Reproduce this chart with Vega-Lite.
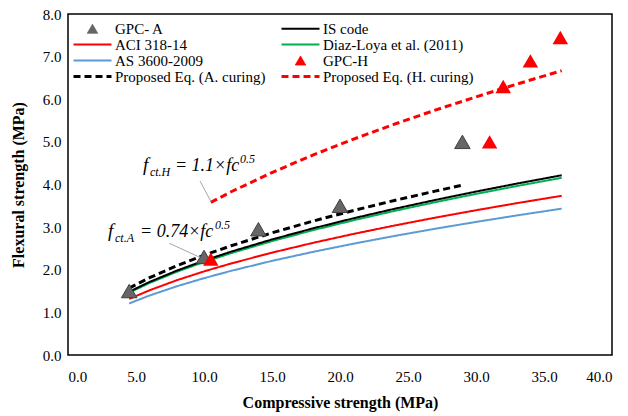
{
  "$schema": "https://vega.github.io/schema/vega-lite/v6.json",
  "width": 544,
  "height": 341,
  "autosize": "none",
  "padding": {"left": 68, "top": 14, "right": 16, "bottom": 61},
  "background": "white",
  "config": {
    "view": {"stroke": "#000000", "strokeWidth": 1.5},
    "font": "Liberation Serif",
    "axis": {
      "grid": false, "ticks": false, "domain": false,
      "labelFont": "Liberation Serif", "labelFontSize": 15, "labelColor": "#000000",
      "titleFont": "Liberation Serif", "titleFontSize": 16, "titleFontWeight": "bold", "titleColor": "#000000",
      "format": ".1f"
    },
    "legend": {"labelFont": "Liberation Serif", "labelFontSize": 15, "labelColor": "#000000"}
  },
  "datasets": {
    "curves": [
      {"series": "ACI 318-14", "fc": 4.5, "ft": 1.315}, {"series": "ACI 318-14", "fc": 6, "ft": 1.519}, {"series": "ACI 318-14", "fc": 8, "ft": 1.754}, {"series": "ACI 318-14", "fc": 10, "ft": 1.961}, {"series": "ACI 318-14", "fc": 12, "ft": 2.148}, {"series": "ACI 318-14", "fc": 15, "ft": 2.401}, {"series": "ACI 318-14", "fc": 18, "ft": 2.63}, {"series": "ACI 318-14", "fc": 21, "ft": 2.841}, {"series": "ACI 318-14", "fc": 24, "ft": 3.037}, {"series": "ACI 318-14", "fc": 27, "ft": 3.222}, {"series": "ACI 318-14", "fc": 30, "ft": 3.396}, {"series": "ACI 318-14", "fc": 33, "ft": 3.562}, {"series": "ACI 318-14", "fc": 36.3, "ft": 3.735},
      {"series": "AS 3600-2009", "fc": 4.5, "ft": 1.209}, {"series": "AS 3600-2009", "fc": 6, "ft": 1.396}, {"series": "AS 3600-2009", "fc": 8, "ft": 1.612}, {"series": "AS 3600-2009", "fc": 10, "ft": 1.802}, {"series": "AS 3600-2009", "fc": 12, "ft": 1.975}, {"series": "AS 3600-2009", "fc": 15, "ft": 2.208}, {"series": "AS 3600-2009", "fc": 18, "ft": 2.418}, {"series": "AS 3600-2009", "fc": 21, "ft": 2.612}, {"series": "AS 3600-2009", "fc": 24, "ft": 2.792}, {"series": "AS 3600-2009", "fc": 27, "ft": 2.962}, {"series": "AS 3600-2009", "fc": 30, "ft": 3.122}, {"series": "AS 3600-2009", "fc": 33, "ft": 3.274}, {"series": "AS 3600-2009", "fc": 36.3, "ft": 3.434},
      {"series": "Diaz-Loya et al. (2011)", "fc": 4.5, "ft": 1.464}, {"series": "Diaz-Loya et al. (2011)", "fc": 6, "ft": 1.69}, {"series": "Diaz-Loya et al. (2011)", "fc": 8, "ft": 1.952}, {"series": "Diaz-Loya et al. (2011)", "fc": 10, "ft": 2.182}, {"series": "Diaz-Loya et al. (2011)", "fc": 12, "ft": 2.39}, {"series": "Diaz-Loya et al. (2011)", "fc": 15, "ft": 2.672}, {"series": "Diaz-Loya et al. (2011)", "fc": 18, "ft": 2.927}, {"series": "Diaz-Loya et al. (2011)", "fc": 21, "ft": 3.162}, {"series": "Diaz-Loya et al. (2011)", "fc": 24, "ft": 3.38}, {"series": "Diaz-Loya et al. (2011)", "fc": 27, "ft": 3.585}, {"series": "Diaz-Loya et al. (2011)", "fc": 30, "ft": 3.779}, {"series": "Diaz-Loya et al. (2011)", "fc": 33, "ft": 3.964}, {"series": "Diaz-Loya et al. (2011)", "fc": 36.3, "ft": 4.157},
      {"series": "IS code", "fc": 4.5, "ft": 1.485}, {"series": "IS code", "fc": 6, "ft": 1.715}, {"series": "IS code", "fc": 8, "ft": 1.98}, {"series": "IS code", "fc": 10, "ft": 2.214}, {"series": "IS code", "fc": 12, "ft": 2.425}, {"series": "IS code", "fc": 15, "ft": 2.711}, {"series": "IS code", "fc": 18, "ft": 2.97}, {"series": "IS code", "fc": 21, "ft": 3.208}, {"series": "IS code", "fc": 24, "ft": 3.429}, {"series": "IS code", "fc": 27, "ft": 3.637}, {"series": "IS code", "fc": 30, "ft": 3.834}, {"series": "IS code", "fc": 33, "ft": 4.021}, {"series": "IS code", "fc": 36.3, "ft": 4.217},
      {"series": "Proposed Eq. (A. curing)", "fc": 4.5, "ft": 1.57}, {"series": "Proposed Eq. (A. curing)", "fc": 6, "ft": 1.813}, {"series": "Proposed Eq. (A. curing)", "fc": 8, "ft": 2.093}, {"series": "Proposed Eq. (A. curing)", "fc": 10, "ft": 2.34}, {"series": "Proposed Eq. (A. curing)", "fc": 12, "ft": 2.563}, {"series": "Proposed Eq. (A. curing)", "fc": 15, "ft": 2.866}, {"series": "Proposed Eq. (A. curing)", "fc": 18, "ft": 3.14}, {"series": "Proposed Eq. (A. curing)", "fc": 21, "ft": 3.391}, {"series": "Proposed Eq. (A. curing)", "fc": 24, "ft": 3.625}, {"series": "Proposed Eq. (A. curing)", "fc": 27, "ft": 3.845}, {"series": "Proposed Eq. (A. curing)", "fc": 29, "ft": 3.985},
      {"series": "Proposed Eq. (H. curing)", "fc": 10.5, "ft": 3.58}, {"series": "Proposed Eq. (H. curing)", "fc": 12, "ft": 3.83}, {"series": "Proposed Eq. (H. curing)", "fc": 15, "ft": 4.28}, {"series": "Proposed Eq. (H. curing)", "fc": 18, "ft": 4.69}, {"series": "Proposed Eq. (H. curing)", "fc": 21, "ft": 5.065}, {"series": "Proposed Eq. (H. curing)", "fc": 24, "ft": 5.415}, {"series": "Proposed Eq. (H. curing)", "fc": 27, "ft": 5.745}, {"series": "Proposed Eq. (H. curing)", "fc": 30, "ft": 6.055}, {"series": "Proposed Eq. (H. curing)", "fc": 33, "ft": 6.355}, {"series": "Proposed Eq. (H. curing)", "fc": 36.3, "ft": 6.67}
    ],
    "points": [
      {"series": "GPC- A", "fc": 4.5, "ft": 1.5},
      {"series": "GPC- A", "fc": 10, "ft": 2.3},
      {"series": "GPC- A", "fc": 14, "ft": 2.95},
      {"series": "GPC- A", "fc": 20, "ft": 3.5},
      {"series": "GPC- A", "fc": 29, "ft": 5.0},
      {"series": "GPC-H", "fc": 10.5, "ft": 2.25},
      {"series": "GPC-H", "fc": 31, "ft": 5.0},
      {"series": "GPC-H", "fc": 32, "ft": 6.3},
      {"series": "GPC-H", "fc": 34, "ft": 6.9},
      {"series": "GPC-H", "fc": 36.2, "ft": 7.45}
    ],
    "notes": [
      {"note": "H", "fc": 5.51, "ft": 4.32, "sym": "f", "sub": "ct.H", "eq": "= 1.1×fc", "sup": "0.5"},
      {"note": "A", "fc": 2.94, "ft": 2.77, "sym": "f", "sub": "ct.A", "eq": "= 0.74×fc", "sup": "0.5"}
    ],
    "leaders": [
      {"note": "H", "fc": 9.71, "ft": 4.08, "fc2": 10.51, "ft2": 3.6},
      {"note": "A", "fc": 7.45, "ft": 2.62, "fc2": 9.71, "ft2": 2.29}
    ]
  },
  "encoding": {
    "x": {"field": "fc", "type": "quantitative", "scale": {"domain": [0, 40], "nice": false},
      "axis": {"values": [0, 5, 10, 15, 20, 25, 30, 35, 40], "labelPadding": 14, "titlePadding": 10, "title": "Compressive strength (MPa)"}},
    "y": {"field": "ft", "type": "quantitative", "scale": {"domain": [0, 8], "nice": false},
      "axis": {"values": [0, 1, 2, 3, 4, 5, 6, 7, 8], "labelPadding": 7, "titlePadding": 16, "title": "Flexural strength (MPa)"}}
  },
  "layer": [
    {
      "data": {"name": "curves"},
      "transform": [{"filter": "datum.series !== 'Proposed Eq. (A. curing)' && datum.series !== 'Proposed Eq. (H. curing)'"}],
      "mark": {"type": "line", "strokeWidth": 2},
      "encoding": {
        "color": {"field": "series", "type": "nominal",
          "scale": {
            "domain": ["GPC- A", "ACI 318-14", "AS 3600-2009", "Proposed Eq. (A. curing)", "IS code", "Diaz-Loya et al. (2011)", "GPC-H", "Proposed Eq. (H. curing)"],
            "range": ["#666666", "#ff0000", "#5b9bd5", "#000000", "#000000", "#00b050", "#ff0000", "#ff0000"]
          },
          "legend": {
            "title": null, "orient": "none", "legendX": 5, "legendY": 7, "padding": 0,
            "columns": 2, "columnPadding": 15, "rowPadding": -1.3, "clipHeight": 15,
            "symbolSize": 200, "symbolStrokeWidth": 2.5, "symbolOffset": 12, "labelOffset": 15,
            "labelFont": "Liberation Serif", "labelFontSize": 15, "labelColor": "#000000", "labelLimit": 300,
            "symbolType": "stroke",
            "encode": {
              "symbols": {
                "update": {
                  "shape": {"signal": "scale('shape', datum.value)"},
                  "strokeDash": {"signal": "scale('strokeDash', datum.value)"},
                  "fill": {"signal": "scale('color', datum.value)"},
                  "stroke": {"signal": "datum.value === 'GPC- A' ? '#404040' : scale('color', datum.value)"},
                  "opacity": {"value": 1},
                  "size": {"signal": "(datum.value === 'GPC- A' || datum.value === 'GPC-H') ? 110 : 1444"},
                  "strokeWidth": {"signal": "(datum.value === 'GPC- A' || datum.value === 'GPC-H') ? 0.8 : (indexof(datum.value, 'Proposed') === 0 ? 3 : 2.2)"}
                }
              }
            }
          }
        },
        "strokeDash": {"field": "series", "type": "nominal", "legend": null,
          "scale": {
            "domain": ["GPC- A", "ACI 318-14", "AS 3600-2009", "Proposed Eq. (A. curing)", "IS code", "Diaz-Loya et al. (2011)", "GPC-H", "Proposed Eq. (H. curing)"],
            "range": [[1, 0], [1, 0], [1, 0], [7, 4], [1, 0], [1, 0], [1, 0], [7, 4]]
          }
        }
      }
    },
    {
      "data": {"name": "curves"},
      "transform": [{"filter": "datum.series === 'Proposed Eq. (A. curing)' || datum.series === 'Proposed Eq. (H. curing)'"}],
      "mark": {"type": "line", "strokeWidth": 3},
      "encoding": {
        "color": {"field": "series", "type": "nominal"},
        "strokeDash": {"field": "series", "type": "nominal", "legend": null}
      }
    },
    {
      "data": {"name": "points"},
      "transform": [{"filter": "datum.series === 'GPC- A'"}],
      "mark": {"type": "point", "filled": true, "opacity": 1, "size": 240, "stroke": "#404040", "strokeWidth": 1},
      "encoding": {
        "color": {"field": "series", "type": "nominal"},
        "shape": {"field": "series", "type": "nominal", "legend": null,
          "scale": {
            "domain": ["GPC- A", "ACI 318-14", "AS 3600-2009", "Proposed Eq. (A. curing)", "IS code", "Diaz-Loya et al. (2011)", "GPC-H", "Proposed Eq. (H. curing)"],
            "range": ["triangle-up", "stroke", "stroke", "stroke", "stroke", "stroke", "triangle-up", "stroke"]
          }
        }
      }
    },
    {
      "data": {"name": "points"},
      "transform": [{"filter": "datum.series === 'GPC-H'"}],
      "mark": {"type": "point", "filled": true, "opacity": 1, "size": 240},
      "encoding": {
        "color": {"field": "series", "type": "nominal"},
        "shape": {"field": "series", "type": "nominal", "legend": null}
      }
    },
    {
      "data": {"name": "leaders"},
      "mark": {"type": "rule", "stroke": "#a6a6a6", "strokeWidth": 1},
      "encoding": {
        "x2": {"field": "fc2"},
        "y2": {"field": "ft2"}
      }
    },
    {
      "data": {"name": "notes"},
      "mark": {"type": "text", "align": "left", "baseline": "alphabetic", "font": "Liberation Serif", "fontStyle": "italic", "fontSize": 19, "fill": "#000000"},
      "encoding": {"text": {"field": "sym"}}
    },
    {
      "data": {"name": "notes"},
      "mark": {"type": "text", "align": "left", "baseline": "alphabetic", "font": "Liberation Serif", "fontStyle": "italic", "fontSize": 12, "dx": 7, "dy": 5, "fill": "#000000"},
      "encoding": {"text": {"field": "sub"}}
    },
    {
      "data": {"name": "notes"},
      "mark": {"type": "text", "align": "left", "baseline": "alphabetic", "font": "Liberation Serif", "fontStyle": "italic", "fontSize": 18, "dx": 32, "fill": "#000000"},
      "encoding": {"text": {"field": "eq"}}
    },
    {
      "data": {"name": "notes"},
      "transform": [{"filter": "datum.note === 'H'"}],
      "mark": {"type": "text", "align": "left", "baseline": "alphabetic", "font": "Liberation Serif", "fontStyle": "italic", "fontSize": 12, "dx": 97, "dy": -8, "fill": "#000000"},
      "encoding": {"text": {"field": "sup"}}
    },
    {
      "data": {"name": "notes"},
      "transform": [{"filter": "datum.note === 'A'"}],
      "mark": {"type": "text", "align": "left", "baseline": "alphabetic", "font": "Liberation Serif", "fontStyle": "italic", "fontSize": 12, "dx": 107, "dy": -8, "fill": "#000000"},
      "encoding": {"text": {"field": "sup"}}
    }
  ]
}
